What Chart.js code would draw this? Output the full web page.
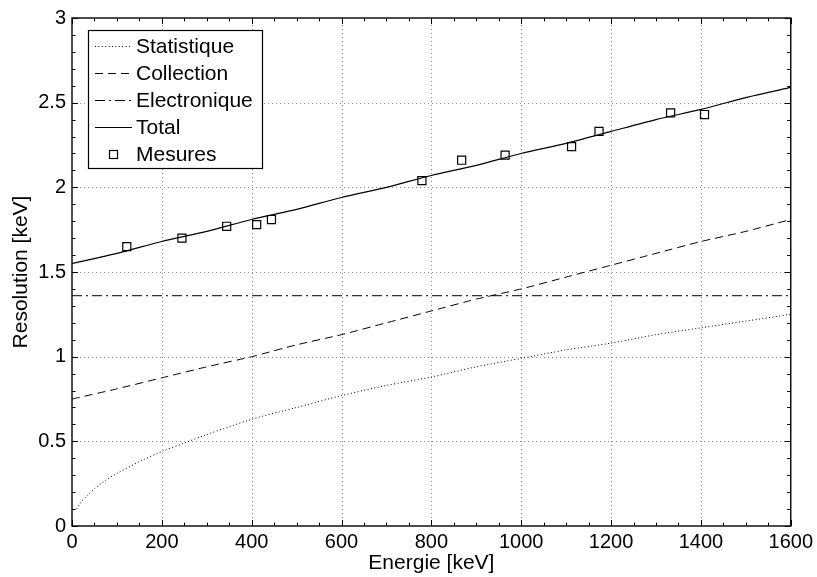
<!DOCTYPE html>
<html><head><meta charset="utf-8">
<script src="https://cdn.jsdelivr.net/npm/chart.js@4.4.0/dist/chart.umd.min.js"></script>
<style>html,body{margin:0;padding:0;background:#fff;} canvas{display:block;}</style>
</head><body>
<canvas id="c" width="817" height="577"></canvas>
<script>
// ---- data ----
const statEnergy = [10, 20, 30, 50, 75, 100, 150, 200, 250, 300, 400, 500, 600, 700, 800, 900, 1000, 1100, 1200, 1300, 1400, 1500, 1600];
const statValues = [0.10, 0.14, 0.17, 0.22, 0.27, 0.31, 0.38, 0.44, 0.49, 0.54, 0.63, 0.70, 0.77, 0.83, 0.88, 0.94, 0.99, 1.04, 1.08, 1.13, 1.17, 1.21, 1.25];
const curveEnergy = [0, 100, 200, 300, 400, 500, 600, 700, 800, 900, 1000, 1100, 1200, 1300, 1400, 1500, 1600];
const collectionValues = [0.75, 0.81, 0.875, 0.94, 1.00, 1.07, 1.13, 1.20, 1.27, 1.34, 1.40, 1.47, 1.54, 1.61, 1.68, 1.74, 1.81];
const totalValues = [1.55, 1.61, 1.68, 1.74, 1.81, 1.87, 1.94, 2.00, 2.07, 2.13, 2.20, 2.26, 2.33, 2.40, 2.46, 2.53, 2.59];
const electroniqueEnergy = [0, 1600];
const electroniqueValues = [1.36, 1.36];
const mesuresEnergy = [122, 244.7, 344.3, 411.1, 444.0, 778.9, 867.4, 964.1, 1112.1, 1173.2, 1332.5, 1408.0];
const mesuresValues = [1.65, 1.70, 1.77, 1.78, 1.81, 2.04, 2.16, 2.19, 2.24, 2.33, 2.44, 2.43];
const seriesLabels = ['Statistique', 'Collection', 'Electronique', 'Total', 'Mesures'];
const xTickLabels = ['0', '200', '400', '600', '800', '1000', '1200', '1400', '1600'];
const yTickLabels = ['0', '0.5', '1', '1.5', '2', '2.5', '3'];
const xTitle = 'Energie [keV]';
const yTitle = 'Resolution [keV]';

const FONT = "'Liberation Sans', Arial, Helvetica, sans-serif";
const pts = (xs, ys) => xs.map((x, i) => ({x: x, y: ys[i]}));

const gridPlugin = {
  id: 'dottedGrid',
  beforeDatasetsDraw(chart) {
    const {ctx, chartArea: ca, scales: {x, y}} = chart;
    ctx.save();
    ctx.strokeStyle = '#8c8c8c'; ctx.lineWidth = 1; ctx.setLineDash([1, 3]);
    ctx.beginPath();
    x.ticks.forEach(t => {
      if (t.value <= x.min || t.value >= x.max) return;
      const px = Math.round(x.getPixelForValue(t.value)) + 0.5;
      ctx.moveTo(px, ca.bottom); ctx.lineTo(px, ca.top);
    });
    y.ticks.forEach(t => {
      if (t.value <= y.min || t.value >= y.max) return;
      const py = Math.round(y.getPixelForValue(t.value)) + 0.5;
      ctx.moveTo(ca.left, py); ctx.lineTo(ca.right, py);
    });
    ctx.stroke();
    ctx.restore();
  }
};

const legendPlugin = {
  id: 'insideLegend',
  afterDatasetsDraw(chart) {
    const {ctx, chartArea: ca} = chart;
    const x0 = ca.left + 16, y0 = ca.top + 12, w = 174, h = 138;
    ctx.save();
    ctx.fillStyle = '#fff';
    ctx.fillRect(x0, y0, w, h);
    ctx.strokeStyle = '#000'; ctx.lineWidth = 1.2; ctx.setLineDash([]);
    ctx.strokeRect(x0 + 0.5, y0 + 0.5, w, h);
    ctx.font = '21px ' + FONT;
    ctx.textBaseline = 'middle';
    ctx.textAlign = 'left';
    chart.data.datasets.forEach((ds, i) => {
      const cy = y0 + 16 + i * 27;
      if (ds.showLine !== false) {
        ctx.strokeStyle = ds.borderColor; ctx.lineWidth = ds.borderWidth;
        ctx.setLineDash(ds.borderDash || []);
        ctx.beginPath(); ctx.moveTo(x0 + 7, cy + 0.5); ctx.lineTo(x0 + 44, cy + 0.5); ctx.stroke();
        ctx.setLineDash([]);
      } else {
        ctx.strokeStyle = ds.pointBorderColor; ctx.lineWidth = ds.pointBorderWidth;
        ctx.strokeRect(x0 + 21.5, cy - 3.5, 8, 8);
      }
      ctx.fillStyle = '#000';
      ctx.fillText(ds.label, x0 + 48, cy + 1);
    });
    ctx.restore();
  }
};

const framePlugin = {
  id: 'frame',
  afterDraw(chart) {
    const {ctx, chartArea: ca, scales: {x, y}} = chart;
    ctx.save();
    ctx.strokeStyle = '#000'; ctx.lineWidth = 1; ctx.setLineDash([]);
    ctx.beginPath();
    for (let v = 0; v <= 1600; v += 50) {
      const px = Math.round(x.getPixelForValue(v)) + 0.5;
      const L = v % 200 === 0 ? 6 : 3.5;
      ctx.moveTo(px, ca.bottom); ctx.lineTo(px, ca.bottom - L);
      ctx.moveTo(px, ca.top); ctx.lineTo(px, ca.top + L);
    }
    for (let i = 0; i <= 30; i++) {
      const py = Math.round(y.getPixelForValue(i / 10)) + 0.5;
      const L = i % 5 === 0 ? 6 : 3.5;
      ctx.moveTo(ca.left, py); ctx.lineTo(ca.left + L, py);
      ctx.moveTo(ca.right, py); ctx.lineTo(ca.right - L, py);
    }
    ctx.stroke();
    ctx.lineWidth = 1.4;
    ctx.strokeRect(ca.left, ca.top, ca.right - ca.left, ca.bottom - ca.top);
    ctx.restore();
  }
};

new Chart(document.getElementById('c'), {
  type: 'line',
  data: {
    datasets: [
      {label: seriesLabels[0], data: pts(statEnergy, statValues), borderColor: '#000', borderWidth: 1, borderDash: [1, 2.4], pointRadius: 0, tension: 0.3, fill: false},
      {label: seriesLabels[1], data: pts(curveEnergy, collectionValues), borderColor: '#000', borderWidth: 1, borderDash: [8, 5], pointRadius: 0, tension: 0.2, fill: false},
      {label: seriesLabels[2], data: pts(electroniqueEnergy, electroniqueValues), borderColor: '#000', borderWidth: 1, borderDash: [10, 4, 2, 4], pointRadius: 0, fill: false},
      {label: seriesLabels[3], data: pts(curveEnergy, totalValues), borderColor: '#000', borderWidth: 1.2, pointRadius: 0, tension: 0.2, fill: false},
      {label: seriesLabels[4], data: pts(mesuresEnergy, mesuresValues), showLine: false, pointStyle: 'rect', pointRadius: 5.7, pointBorderColor: '#000', pointBackgroundColor: 'rgba(255,255,255,0)', pointBorderWidth: 1.2, borderColor: '#000'}
    ]
  },
  options: {
    responsive: false,
    animation: false,
    devicePixelRatio: 1,
    layout: {padding: {left: 0, right: 25, top: 12, bottom: 0}},
    plugins: {legend: {display: false}, tooltip: {enabled: false}},
    scales: {
      x: {
        type: 'linear', min: 0, max: 1600,
        afterFit: s => { s.height = 51; },
        ticks: {stepSize: 200, color: '#000', font: {family: FONT, size: 20}, padding: 4, maxRotation: 0,
          callback: (v) => xTickLabels[Math.round(v / 200)]},
        grid: {display: false, drawTicks: false},
        border: {display: false},
        title: {display: true, text: xTitle, color: '#000', font: {family: FONT, size: 21}, padding: {top: 0, bottom: 1}}
      },
      y: {
        min: 0, max: 3,
        afterFit: s => { s.width = 72; },
        ticks: {stepSize: 0.5, color: '#000', font: {family: FONT, size: 20}, padding: 6,
          callback: (v) => yTickLabels[Math.round(v * 2)]},
        grid: {display: false, drawTicks: false},
        border: {display: false},
        title: {display: true, text: yTitle, color: '#000', font: {family: FONT, size: 21}, padding: {top: 9, bottom: 0}}
      }
    }
  },
  plugins: [gridPlugin, legendPlugin, framePlugin]
});
</script>
</body></html>
